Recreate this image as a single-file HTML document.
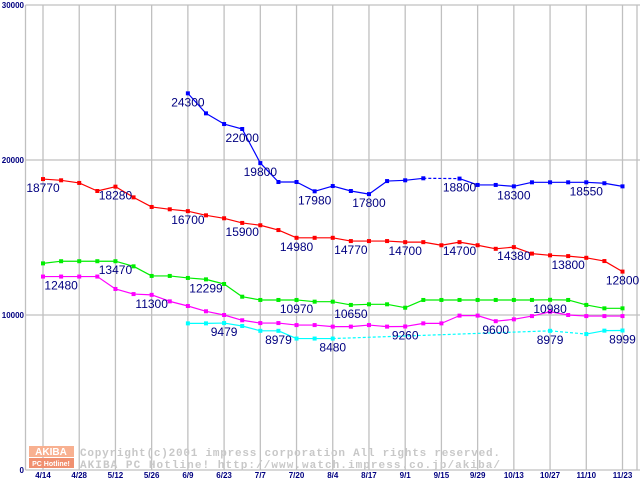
<!DOCTYPE html>
<html><head><meta charset="utf-8"><style>
body{margin:0;background:#fff;}
svg{display:block;}
</style></head><body>
<svg id="chart" width="640" height="480" xmlns="http://www.w3.org/2000/svg">
<rect x="0" y="0" width="640" height="480" fill="#fff"/>
<g id="grid"></g>
<g id="axes"></g>
<g id="watermark">
  <rect x="29" y="446" width="45" height="11" fill="#f8b090"/>
  <rect x="29" y="458" width="45" height="10" fill="#f09070"/>
  <text x="51" y="455" font-family="Liberation Sans, sans-serif" font-size="10" font-weight="bold" fill="#fff" text-anchor="middle">AKIBA</text>
  <text x="51" y="466" font-family="Liberation Sans, sans-serif" font-size="7" font-weight="bold" fill="#fff" text-anchor="middle">PC Hotline!</text>
  <text x="80" y="456" font-family="Liberation Mono, monospace" font-size="11" font-weight="bold" fill="#c8c8c8" textLength="420">Copyright(c)2001 impress corporation All rights reserved.</text>
  <text x="80" y="468" font-family="Liberation Mono, monospace" font-size="11" font-weight="bold" fill="#c8c8c8" textLength="420">AKIBA PC Hotline!  http://www.watch.impress.co.jp/akiba/</text>
</g>
<g id="series"></g>
<g id="labels"></g>
</svg>
<script>
const xTickLabels = ["4/14","4/28","5/12","5/26","6/9","6/23","7/7","7/20","8/4","8/17","9/1","9/15","9/29","10/13","10/27","11/10","11/23"];
const yTicks = [0,10000,20000,30000];
const N = 33;
const seriesBlue = [null,null,null,null,null,null,null,null,24300,23010,22320,22000,19800,18580,18580,17980,18320,18000,17800,18640,18690,18820,null,18800,18390,18390,18300,18560,18560,18560,18560,18500,18300];
const seriesRed = [18770,18690,18520,18000,18280,17590,16970,16820,16700,16430,16240,15940,15790,15480,14980,14980,14980,14770,14770,14770,14700,14700,14500,14700,14500,14270,14380,13960,13850,13800,13690,13480,12800];
const seriesGreen = [13330,13470,13470,13470,13470,13140,12520,12520,12390,12299,12000,11180,10970,10970,10970,10860,10860,10650,10690,10690,10470,10970,10970,10970,10970,10970,10970,10970,10980,10970,10650,10430,10430];
const seriesMagenta = [12480,12480,12480,12480,11680,11350,11300,10880,10580,10240,10000,9660,9480,9480,9350,9350,9250,9250,9350,9250,9260,9460,9460,9960,9960,9600,9720,9930,10210,10000,9930,9930,9930];
const seriesCyan = [null,null,null,null,null,null,null,null,9460,9460,9479,9290,8979,8979,8480,8480,8480,null,null,null,null,null,null,null,null,null,null,null,8979,null,8770,8990,8999];
const labelBlue = [[8,"24300"],[11,"22000"],[12,"19800"],[15,"17980"],[18,"17800"],[23,"18800"],[26,"18300"],[30,"18550"]];
const labelRed = [[0,"18770"],[4,"18280"],[8,"16700"],[11,"15900"],[14,"14980"],[17,"14770"],[20,"14700"],[23,"14700"],[26,"14380"],[29,"13800"],[32,"12800"]];
const labelGreen = [[4,"13470"],[9,"12299"],[14,"10970"],[17,"10650"],[28,"10980"]];
const labelMagenta = [[1,"12480"],[6,"11300"],[20,"9260"],[25,"9600"]];
const labelCyan = [[10,"9479"],[13,"8979"],[16,"8480"],[28,"8979"],[32,"8999"]];

const NS="http://www.w3.org/2000/svg";
const X0=43, XSTEP=(622.5-43)/32, Y0=470, YTOP=5, YMAX=30000;
function xs(i){return X0+i*XSTEP;}
function ys(v){return Y0-(v/YMAX)*(Y0-YTOP);}
function mk(tag,attrs,parent){const e=document.createElementNS(NS,tag);for(const k in attrs)e.setAttribute(k,attrs[k]);parent.appendChild(e);return e;}
const grid=document.getElementById('grid'), axes=document.getElementById('axes'), ser=document.getElementById('series'), lab=document.getElementById('labels');
// vertical grid
for(let t=0;t<xTickLabels.length;t++){
  const x=xs(t*2);
  const l=mk('line',{x1:x,x2:x,y1:YTOP,y2:Y0,stroke:'#c0c0c0','stroke-width':1.3},grid);
  
  
  const tx=mk('text',{x:x,y:478,'font-family':'Liberation Sans, sans-serif','font-size':8,'font-weight':'bold',fill:'#000080','text-anchor':'middle'},axes);
  tx.textContent=xTickLabels[t];
  
  
}
mk('line',{x1:637,x2:637,y1:YTOP,y2:Y0,stroke:'#c0c0c0','stroke-width':1.3},grid);
for(const v of yTicks){
  const y=ys(v);
  const l=mk('line',{x1:25.5,x2:640,y1:y,y2:y,stroke:'#c0c0c0','stroke-width':1.3},grid);
  
  
  const tx=mk('text',{x:24,y:y+3,'font-family':'Liberation Sans, sans-serif','font-size':8,'font-weight':'bold',fill:'#000080','text-anchor':'end'},axes);
  tx.textContent=String(v);
  
  
}
const ax=mk('line',{x1:25.5,x2:25.5,y1:YTOP,y2:Y0,stroke:'#c0c0c0','stroke-width':1.3},axes);



function drawSeries(vals,color,name){
  const g=mk('g',{},ser);
  
  
  let prev=-1;
  for(let i=0;i<vals.length;i++){
    if(vals[i]==null)continue;
    if(prev>=0){
      const gap=i-prev>1;
      const attrs={x1:xs(prev),y1:ys(vals[prev]),x2:xs(i),y2:ys(vals[i]),stroke:color,'stroke-width':1.2};
      if(gap)attrs['stroke-dasharray']='3,2';
      const ln=mk('line',attrs,g);
      
      
    }
    prev=i;
  }
  for(let i=0;i<vals.length;i++){
    if(vals[i]==null)continue;
    const r=mk('rect',{x:xs(i)-2,y:ys(vals[i])-2,width:4,height:4,fill:color},g);
    
    
  }
}
function drawLabels(lbls,vals,name){
  for(const [i,t] of lbls){
    const tx=mk('text',{x:xs(i),y:ys(vals[i])+13,'font-family':'Liberation Sans, sans-serif','font-size':12,fill:'#000080','text-anchor':'middle'},lab);
    tx.textContent=t;
    
    
  }
}
drawSeries(seriesCyan,'#00ffff','cyan-series');
drawSeries(seriesMagenta,'#ff00ff','magenta-series');
drawSeries(seriesGreen,'#00ee00','green-series');
drawSeries(seriesRed,'#ff0000','red-series');
drawSeries(seriesBlue,'#0000ff','blue-series');
drawLabels(labelBlue,seriesBlue,'blue');
drawLabels(labelRed,seriesRed,'red');
drawLabels(labelGreen,seriesGreen,'green');
drawLabels(labelMagenta,seriesMagenta,'magenta');
drawLabels(labelCyan,seriesCyan,'cyan');
</script>
</body></html>
